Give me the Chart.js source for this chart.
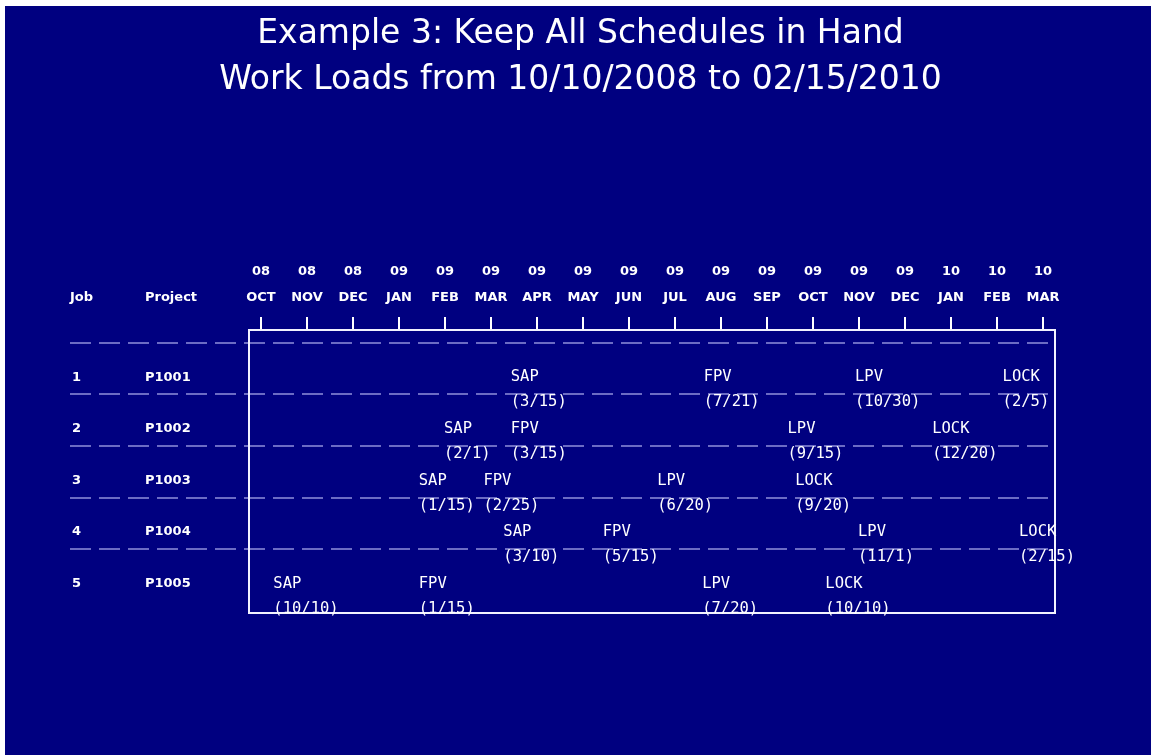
<!DOCTYPE html>
<html>
<head>
<meta charset="utf-8">
<title>Work Loads</title>
<script src="https://cdn.jsdelivr.net/npm/chart.js@4/dist/chart.umd.min.js"></script>
<style>
    body { margin: 0; background: #ffffff; }
    #wrap { position: absolute; left: 5px; top: 6px; width: 1146px; height: 749px; background: #000080; }
</style>
</head>
<body>
<div id="wrap"><canvas id="schedule" width="1146" height="749"></canvas></div>
<script>
// axis labels (one per month, tick = 1st of month)
const yearLabels = ["08", "08", "08", "09", "09", "09", "09", "09", "09", "09", "09", "09", "09", "09", "09", "10", "10", "10"];
const monthLabels = ["OCT", "NOV", "DEC", "JAN", "FEB", "MAR", "APR", "MAY", "JUN", "JUL", "AUG", "SEP", "OCT", "NOV", "DEC", "JAN", "FEB", "MAR"];

// rows
const jobs = ["1", "2", "3", "4", "5"];
const projects = ["P1001", "P1002", "P1003", "P1004", "P1005"];

// milestones, one entry per project
const milestones = ["SAP", "FPV", "LPV", "LOCK"];
const sapDates = ["2009-03-15", "2009-02-01", "2009-01-15", "2009-03-10", "2008-10-10"];
const fpvDates = ["2009-07-21", "2009-03-15", "2009-02-25", "2009-05-15", "2009-01-15"];
const lpvDates = ["2009-10-30", "2009-09-15", "2009-06-20", "2009-11-01", "2009-07-20"];
const lockDates = ["2010-02-05", "2009-12-20", "2009-09-20", "2010-02-15", "2009-10-10"];

// months since 10/01/2008
function toMonths(s) {
    const p = s.split("-").map(Number);
    const days = new Date(p[0], p[1], 0).getDate();
    return (p[0] - 2008) * 12 + (p[1] - 10) + (p[2] - 1) / days;
}

function shortDate(s) {
    const p = s.split("-").map(Number);
    return "(" + p[1] + "/" + p[2] + ")";
}

function makeSet(name, dates) {
    return {
        label: name,
        data: dates.map((d, i) => ({x: toMonths(d), y: i + 1, txt: shortDate(d)})),
        pointRadius: 0,
        showLine: false
    };
}

const allDates = [sapDates, fpvDates, lpvDates, lockDates];

const scheduleText = {
    id: "scheduleText",
    beforeDatasetsDraw(chart) {
        const ctx = chart.ctx;
        const area = chart.chartArea;
        const y = chart.scales.y;
        ctx.save();
        // row separators
        ctx.strokeStyle = "#6c6cc4";
        ctx.lineWidth = 2;
        ctx.setLineDash([21, 8]);
        for (let k = 0; k < jobs.length; k++) {
            const py = Math.round(y.getPixelForValue(k));
            ctx.beginPath();
            ctx.moveTo(65, py);
            ctx.lineTo(area.right, py);
            ctx.stroke();
        }
        ctx.setLineDash([]);
        // frame
        ctx.strokeStyle = "#f2f2ff";
        ctx.lineWidth = 2;
        ctx.strokeRect(area.left, area.top, area.right - area.left, area.bottom - area.top);
        ctx.restore();
    },
    afterDatasetsDraw(chart) {
        const ctx = chart.ctx;
        const area = chart.chartArea;
        const y = chart.scales.y;
        ctx.save();
        ctx.fillStyle = "#ffffff";
        ctx.textBaseline = "middle";
        ctx.textAlign = "left";
        ctx.font = "bold 13px 'DejaVu Sans'";
        ctx.fillText("Job", 65, area.top - 32);
        ctx.fillText("Project", 140, area.top - 32);
        jobs.forEach((j, i) => {
            const py = y.getPixelForValue(i + 1) - 17;
            ctx.fillText(j, 67, py);
            ctx.fillText(projects[i], 140, py);
        });
        ctx.font = "15.5px 'DejaVu Sans Mono'";
        chart.data.datasets.forEach((ds, di) => {
            const meta = chart.getDatasetMeta(di);
            meta.data.forEach((pt, i) => {
                ctx.fillText(ds.label, pt.x - 1, pt.y - 17);
                ctx.fillText(ds.data[i].txt, pt.x - 1, pt.y + 8);
            });
        });
        ctx.restore();
    }
};

new Chart(document.getElementById("schedule"), {
    type: "scatter",
    data: {
        datasets: milestones.map((m, i) => makeSet(m, allDates[i]))
    },
    options: {
        responsive: false,
        animation: false,
        devicePixelRatio: 1,
        layout: {padding: {left: 5, right: 0, top: 0, bottom: 142}},
        plugins: {
            legend: {display: false},
            tooltip: {enabled: false},
            title: {
                display: true,
                text: ["Example 3: Keep All Schedules in Hand", "Work Loads from 10/10/2008 to 02/15/2010"],
                color: "#ffffff",
                font: {family: "'DejaVu Sans'", size: 33, weight: "normal", lineHeight: 46 / 33},
                padding: {top: 5, bottom: 0}
            }
        },
        scales: {
            x: {
                type: "linear",
                position: "top",
                bounds: "data",
                min: -0.261,
                max: 17.261,
                afterBuildTicks: axis => {
                    axis.ticks = monthLabels.map((m, i) => ({value: i}));
                },
                afterFit: axis => {
                    axis.height = 227;
                },
                ticks: {
                    color: "#ffffff",
                    autoSkip: false,
                    maxRotation: 0,
                    minRotation: 0,
                    padding: 6,
                    font: {family: "'DejaVu Sans'", size: 13, weight: "bold", lineHeight: 2},
                    callback: v => [yearLabels[v], monthLabels[v]]
                },
                grid: {
                    drawOnChartArea: false,
                    color: "#ffffff",
                    lineWidth: 2,
                    tickLength: 13
                },
                border: {display: false}
            },
            y: {
                type: "linear",
                position: "left",
                reverse: true,
                min: -0.25,
                max: 5.24,
                afterFit: axis => {
                    axis.width = 239;
                },
                ticks: {display: false},
                grid: {display: false},
                border: {display: false}
            },
            y2: {
                type: "linear",
                position: "right",
                min: 0,
                max: 1,
                afterFit: axis => {
                    axis.width = 96;
                },
                ticks: {display: false},
                grid: {display: false},
                border: {display: false}
            }
        }
    },
    plugins: [scheduleText]
});
</script>
</body>
</html>
